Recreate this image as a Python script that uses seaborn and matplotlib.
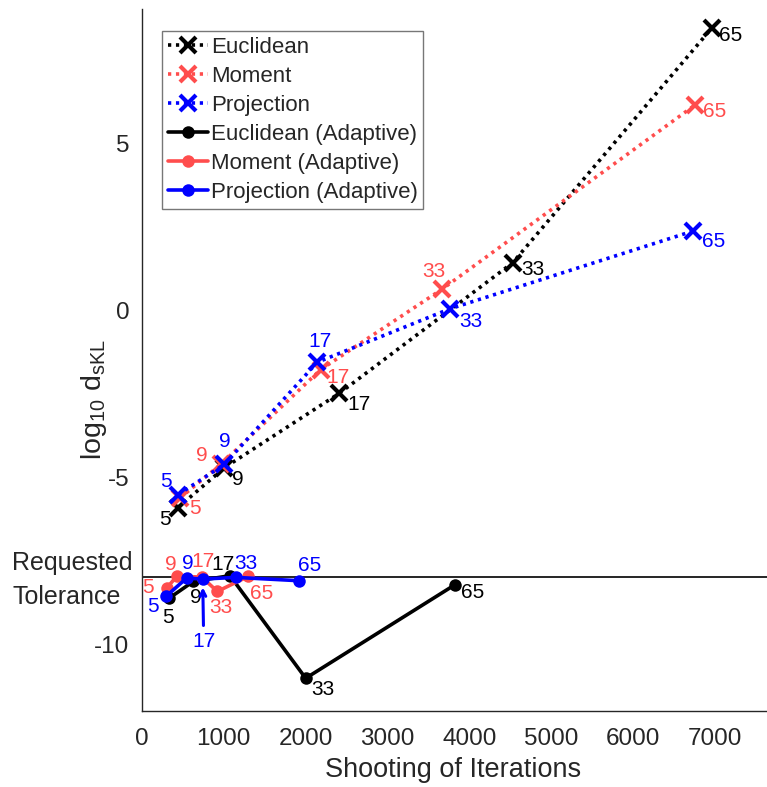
import matplotlib
matplotlib.use("Agg")
import matplotlib.pyplot as plt
import seaborn as sns
import pandas as pd

# ---- data ----
dims = [5, 9, 17, 33, 65]

euc_iter = [435, 1006, 2412, 4532, 6964]
euc_val = [-5.92, -4.72, -2.49, 1.42, 8.44]
mom_iter = [465, 962, 2184, 3664, 6760]
mom_val = [-5.62, -4.62, -1.78, 0.62, 6.14]
proj_iter = [444, 1006, 2143, 3765, 6740]
proj_val = [-5.52, -4.62, -1.56, 0.04, 2.37]

aeuc_iter = [334, 628, 1076, 2001, 3826]
aeuc_val = [-8.62, -8.12, -7.95, -11.02, -8.22]
amom_iter = [302, 424, 730, 921, 1300]
amom_val = [-8.32, -7.97, -7.99, -8.42, -7.97]
aproj_iter = [293, 546, 742, 1149, 1919]
aproj_val = [-8.57, -8.02, -8.05, -8.00, -8.10]

tolerance = -8.0

# ---- style ----
sns.set_style("white")
plt.rcParams["font.family"] = ["Liberation Sans", "DejaVu Sans"]
plt.rcParams["mathtext.default"] = "regular"

BLACK = "#000000"
RED = "#FF4D4D"
BLUE = "#0000FF"

W, H = 767, 787
fig = plt.figure(figsize=(W / 100, H / 100), dpi=100)
left_px, bottom_px, top_px = 142, 711, 9.5
px_per_1000 = 81.8
xmax = 8000
ax_w_px = xmax / 1000 * px_per_1000
ax_h_px = bottom_px - top_px
ax = fig.add_axes([left_px / W, 1 - bottom_px / H, ax_w_px / W, ax_h_px / H])

series = [
    ("Euclidean", euc_iter, euc_val, BLACK, "dot"),
    ("Moment", mom_iter, mom_val, RED, "dot"),
    ("Projection", proj_iter, proj_val, BLUE, "dot"),
    ("Euclidean (Adaptive)", aeuc_iter, aeuc_val, BLACK, "solid"),
    ("Moment (Adaptive)", amom_iter, amom_val, RED, "solid"),
    ("Projection (Adaptive)", aproj_iter, aproj_val, BLUE, "solid"),
]

# label offsets in pixels (dx, dy)
offsets = {
    "Euclidean": [(-13, -12), (14, -12), (20, -11), (20, -7), (19, -7)],
    "Moment": [(15, -11), (-19, 9), (17, -8), (-8, 18), (20, -6)],
    "Projection": [(-12, 13), (1, 23), (3, 21), (21, -13), (20, -11)],
    "Euclidean (Adaptive)": [(-1, -19), (2, -16), (-7, 11), (17, -11), (18, -8)],
    "Moment (Adaptive)": [(-19, 1), (-6, 12), (1, 16), (4, -16), (13, -17)],
    "Projection (Adaptive)": [(-13, -10), (1, 15), (1, -62), (10, 14), (11, 15)],
}

ax.axhline(tolerance, color="black", lw=1.2, zorder=1)

for name, xs, ys, col, kind in series:
    df = pd.DataFrame({"x": xs, "y": ys})
    if kind == "dot":
        sns.lineplot(data=df, x="x", y="y", ax=ax, sort=False, estimator=None,
                     color=col, lw=2.6, linestyle=(0, (0.9, 1.3)),
                     marker="x", markersize=11, markeredgewidth=3,
                     markeredgecolor=col, label=name, zorder=3)
    else:
        sns.lineplot(data=df, x="x", y="y", ax=ax, sort=False, estimator=None,
                     color=col, lw=2.6, linestyle="-",
                     marker="o", markersize=9, markeredgewidth=0,
                     markerfacecolor=col, label=name, zorder=4)
    for (xv, yv, d, (dx, dy)) in zip(xs, ys, dims, offsets[name]):
        if name == "Projection (Adaptive)" and d == 17:
            ax.annotate(str(d), xy=(xv, yv), xytext=(dx, dy),
                        textcoords="offset pixels", ha="center", va="center",
                        fontsize=15, color=col, zorder=6,
                        arrowprops=dict(arrowstyle="->", color=col, lw=2.2,
                                        shrinkA=2, shrinkB=6, mutation_scale=10))
        else:
            ax.annotate(str(d), xy=(xv, yv), xytext=(dx, dy),
                        textcoords="offset pixels", ha="center", va="center",
                        fontsize=15, color=col, zorder=6)

ax.set_xlim(0, xmax)
ax.set_ylim(-12, 9)
ax.set_xticks([0, 1000, 2000, 3000, 4000, 5000, 6000, 7000])
ax.set_yticks([-10, -5, 0, 5])
ax.set_yticklabels(["-10", "-5", "0", "5"])
ax.tick_params(direction="in", length=6, width=0.8, labelsize=17.5,
               colors="#262626", pad=9)
ax.tick_params(axis="x", pad=12)
for s in ["top", "right"]:
    ax.spines[s].set_visible(False)
for s in ["left", "bottom"]:
    ax.spines[s].set_color("#262626")
    ax.spines[s].set_linewidth(1.0)

ax.set_xlabel("Shooting of Iterations", fontsize=19.5, color="#262626")
ax.xaxis.set_label_coords((453 - left_px) / ax_w_px, -(757 - bottom_px) / ax_h_px)
ax.set_ylabel(r"log$_{10}$ d$_{sKL}$", fontsize=20.5, color="#262626")
ax.yaxis.set_label_coords(-(left_px - 109) / ax_w_px, (bottom_px - 400) / ax_h_px)

fig.text(12 / W, 1 - 580 / H, "Requested\nTolerance", fontsize=18,
         color="#262626", ha="left", va="center", linespacing=1.5)

leg = ax.legend(loc="upper left", bbox_to_anchor=(20 / ax_w_px, 1 - 22 / ax_h_px),
                fontsize=16, frameon=True, fancybox=False, borderpad=0.25,
                labelspacing=0.36, handlelength=1.8, handletextpad=0.15,
                borderaxespad=0)
leg.get_frame().set_edgecolor("#555555")
leg.get_frame().set_linewidth(1.0)

fig.savefig("out.png", dpi=100)
